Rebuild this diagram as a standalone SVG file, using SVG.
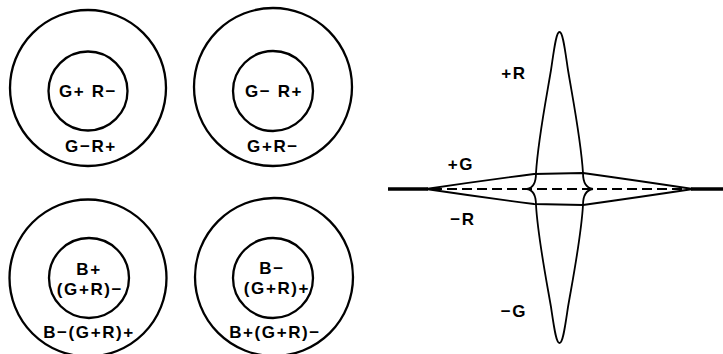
<svg xmlns="http://www.w3.org/2000/svg" width="723" height="354" viewBox="0 0 723 354">
<style>
.c{fill:none;stroke:#000;stroke-width:2.3}
.t{font-family:"Liberation Sans",Arial,sans-serif;font-weight:bold;font-size:17px;fill:#000;text-anchor:middle;letter-spacing:1.6px}
.l{fill:none;stroke:#000;stroke-width:1.8;stroke-linejoin:round}
</style>
<rect width="723" height="354" fill="#fff"/>
<g id="cell-gr">
<circle class="c" cx="88" cy="88" r="78"/>
<circle class="c" cx="88" cy="91" r="39.5"/>
<text class="t" x="88" y="97">G+ R−</text>
<text class="t" x="91" y="152">G−R+</text>
</g>
<g id="cell-rg">
<circle class="c" cx="273" cy="87" r="79"/>
<circle class="c" cx="273" cy="91" r="40"/>
<text class="t" x="274" y="97">G− R+</text>
<text class="t" x="273" y="152">G+R−</text>
</g>
<g id="cell-b">
<circle class="c" cx="88" cy="278" r="78.5"/>
<circle class="c" cx="89" cy="278" r="40"/>
<text class="t" x="89" y="275">B+</text>
<text class="t" x="90" y="295">(G+R)−</text>
<text class="t" x="89" y="338">B−(G+R)+</text>
</g>
<g id="cell-y">
<circle class="c" cx="274" cy="277" r="79"/>
<circle class="c" cx="273" cy="278" r="40"/>
<text class="t" x="272" y="274">B−</text>
<text class="t" x="277" y="294">(G+R)+</text>
<text class="t" x="275" y="338">B+(G+R)−</text>
</g>
<g id="profile">
<line x1="388" y1="189" x2="428" y2="189" stroke="#000" stroke-width="3.5"/>
<line x1="691" y1="189" x2="723" y2="189" stroke="#000" stroke-width="3.5"/>
<line x1="432" y1="189" x2="688" y2="189" stroke="#000" stroke-width="2" stroke-dasharray="10 5"/>
<path class="l" d="M426,189 Q480,181 534,174 L583,173 Q640,181 693,189"/>
<path class="l" d="M426,189 Q480,197 534,204 L583,205 Q640,197 693,189"/>
<path class="l" d="M527,189 C533,188 536,182 536,173 C538,140 546,100 551,70 C554,50 556,32 559.5,32 C563,32 565,50 568,70 C573,100 581,140 583,173 C583,182 586,188 593,189"/>
<path class="l" d="M527,189 C533,190 536,196 536,205 C538,238 546,278 551,307 C554,327 556,343 559.5,343 C563,343 565,327 568,307 C573,278 581,238 583,205 C583,196 586,190 593,189"/>
<text class="t" x="514" y="79">+R</text>
<text class="t" x="461" y="170">+G</text>
<text class="t" x="463" y="225">−R</text>
<text class="t" x="514" y="317">−G</text>
</g>
</svg>
